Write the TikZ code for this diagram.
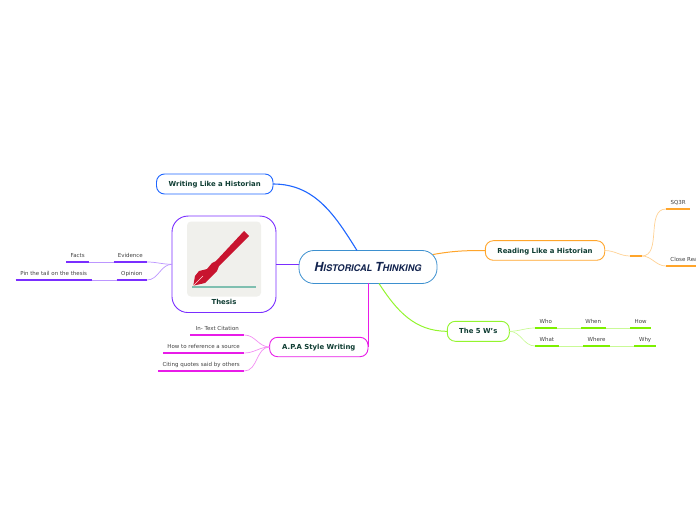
\documentclass[tikz,border=0pt]{standalone}
\usepackage{fontspec}
\setmainfont{DejaVu Sans}
\usepackage{xcolor}
\usetikzlibrary{positioning}
\newfontfamily\brushfont{TeX Gyre Heros}
\definecolor{bluebr}{HTML}{1F66FF}
\definecolor{violetbr}{HTML}{7A2EFF}
\definecolor{magentabr}{HTML}{E81CE8}
\definecolor{limebr}{HTML}{93F52E}
\definecolor{limeleaf}{HTML}{7DF000}
\definecolor{orangebr}{HTML}{FFA52B}
\definecolor{rootline}{HTML}{3D90CF}
\definecolor{darktext}{HTML}{0F3D33}
\definecolor{navytext}{HTML}{13244F}
\definecolor{penred}{HTML}{C8142F}
\definecolor{penpaper}{HTML}{F0F0EC}
\definecolor{penline}{HTML}{7FBFB0}
\newcommand{\titlecap}[2]{{\fontsize{12.5}{12}\selectfont #1}{\fontsize{9.2}{12}\selectfont #2}}
\tikzset{
  every node/.style={outer sep=0pt},
  root/.style    ={draw=rootline, line width=.8pt, rounded corners=15pt, fill=white, minimum width=138pt, minimum height=33pt, inner sep=0pt, text=navytext, font=\brushfont\bfseries\itshape},
  topic/.style   ={draw=#1, line width=.9pt, rounded corners=8pt, fill=white, inner sep=0pt, text height=5.2pt, text depth=0pt, font=\fontsize{6.9}{8}\selectfont\bfseries, text=darktext},
  leaf/.style    ={inner sep=0pt, minimum height=14pt, text height=5pt, text depth=0pt, font=\fontsize{5.5}{6}\selectfont, text=black!75},
  rule/.style    ={draw=#1, line width=1.3pt},
  main/.style    ={draw=#1, line width=1pt},
  twig/.style    ={draw=#1!50, line width=.7pt},
}
\begin{document}
\begin{tikzpicture}[x=1pt,y=1pt]
  \useasboundingbox (0,0) rectangle (696,520);
  % centre and the five branches
  \node[root] (title) at (368,253) {\titlecap{H}{ISTORICAL} \titlecap{T}{HINKING}};
  \node[topic=bluebr, minimum width=116.5pt, minimum height=20pt, above left=56.5pt and 26pt of title] (writing) {Writing Like a Historian};
  \node[topic=violetbr, rounded corners=16pt, minimum width=104pt, minimum height=96.5pt, left=23pt of title, yshift=2.7pt] (thesis) {};
  \node[fill=penpaper, rounded corners=4pt, minimum width=74pt, minimum height=75pt, inner sep=0pt, below=5.5pt of thesis.north] (penbox) {};
  \node[inner sep=0pt, font=\fontsize{6.9}{8}\selectfont\bfseries, text=darktext, below=2.5pt of penbox] (thesislbl) {Thesis};
  \node[topic=orangebr, minimum width=119.4pt, minimum height=19.6pt, right=48.3pt of title, yshift=16.5pt] (reading) {Reading Like a Historian};
  \node[topic=limebr, minimum width=62pt, minimum height=20pt, below right=37.8pt and 10.3pt of title] (fivew) {The 5 W's};
  \node[topic=magentabr, minimum width=98.4pt, minimum height=19.4pt, below left=53.8pt and 0pt of title.south] (apa) {A.P.A Style Writing};
  % pen
  \begin{scope}[yshift=520pt,y=-1pt]
    \fill[penred] (244,231) -- (249,236) -- (219,266) -- (217,271) -- (211,277) -- (205,283) -- (193.3,285.7) -- (195,276) -- (199,271) -- (207,269) -- (212,263) -- (216,261) -- cycle;
    \draw[red!15, line width=.5pt] (193.3,285.7) -- (203,276);
    \draw[penline, line width=1.3pt] (192,287) -- (255.7,287);
  \end{scope}
  % leaves
  \node[leaf, minimum width=33.4pt, left=25pt of thesis, yshift=9.3pt] (evidence) {Evidence};
  \node[leaf, minimum width=23.3pt, left=24.3pt of evidence] (facts) {Facts};
  \node[leaf, minimum width=30.3pt, left=25pt of thesis, yshift=-8.7pt] (opinion) {Opinion};
  \node[leaf, minimum width=76pt, left=25pt of opinion] (pin) {Pin the tail on the thesis};
  \node[leaf, minimum width=54pt, left=25.3pt of apa, yshift=19pt] (intext) {In- Text Citation};
  \node[leaf, minimum width=81.3pt, left=25.3pt of apa, yshift=1pt] (howref) {How to reference a source};
  \node[leaf, minimum width=86.3pt, left=25.3pt of apa, yshift=-17pt] (citing) {Citing quotes said by others};
  \node[leaf, minimum width=11.7pt, right=25.3pt of reading, yshift=1.5pt] (relay) {};
  \node[leaf, minimum width=24.3pt, right=24.3pt of relay, yshift=47pt] (sqr) {SQ3R};
  \node[leaf, minimum width=48pt, right=24.3pt of relay, yshift=-10pt] (close) {Close Reading};
  \node[leaf, minimum width=21.7pt, right=25.7pt of fivew, yshift=10.3pt] (who) {Who};
  \node[leaf, minimum width=25pt, right=24pt of who] (when) {When};
  \node[leaf, minimum width=21.3pt, right=24.3pt of when] (how) {How};
  \node[leaf, minimum width=23.7pt, right=25.7pt of fivew, yshift=-7.7pt] (what) {What};
  \node[leaf, minimum width=26.7pt, right=24.6pt of what] (where) {Where};
  \node[leaf, minimum width=21.7pt, right=24.3pt of where] (why) {Why};
  % connectors
  \draw[main=bluebr, line width=1.1pt] ([xshift=-11pt]title.north) to[out=122,in=0] (writing.east);
  \draw[main=violetbr] (thesis.east) -- (thesis.east -| title.west);
  \draw[main=magentabr] (title.south) -- (apa.east);
  \draw[main=limebr] ([xshift=11pt]title.south) to[out=-57,in=180] (fivew.west);
  \draw[main=orangebr] ([xshift=-4pt,yshift=12.5pt]title.east) to[out=10,in=180] (reading.west);
  \draw[twig=violetbr] (thesis.west) to[out=180,in=0] (evidence.south east);
  \draw[twig=violetbr] (thesis.west) to[out=180,in=0] (opinion.south east);
  \draw[twig=violetbr] (evidence.south west) -- (facts.south east);
  \draw[twig=violetbr] (opinion.south west) -- (pin.south east);
  \draw[twig=magentabr] (apa.west) to[out=180,in=0] (intext.south east);
  \draw[twig=magentabr] (apa.west) to[out=180,in=0] (howref.south east);
  \draw[twig=magentabr] (apa.west) to[out=180,in=0] (citing.south east);
  \draw[twig=orangebr] (reading.east) to[out=0,in=180] (relay.south west);
  \draw[twig=orangebr] (relay.south east) to[out=0,in=180] (sqr.south west);
  \draw[twig=orangebr] (relay.south east) to[out=0,in=180] (close.south west);
  \draw[twig=limebr] (fivew.east) to[out=0,in=180] (who.south west);
  \draw[twig=limebr] (fivew.east) to[out=0,in=180] (what.south west);
  \draw[twig=limebr] (who.south east) -- (when.south west);
  \draw[twig=limebr] (when.south east) -- (how.south west);
  \draw[twig=limebr] (what.south east) -- (where.south west);
  \draw[twig=limebr] (where.south east) -- (why.south west);
  % underlines
  \foreach \n in {evidence,facts,opinion,pin} \draw[rule=violetbr] (\n.south west) -- (\n.south east);
  \foreach \n in {intext,howref,citing} \draw[rule=magentabr] (\n.south west) -- (\n.south east);
  \foreach \n in {relay,sqr,close} \draw[rule=orangebr] (\n.south west) -- (\n.south east);
  \foreach \n in {who,when,how,what,where,why} \draw[rule=limeleaf] (\n.south west) -- (\n.south east);
\end{tikzpicture}
\end{document}
